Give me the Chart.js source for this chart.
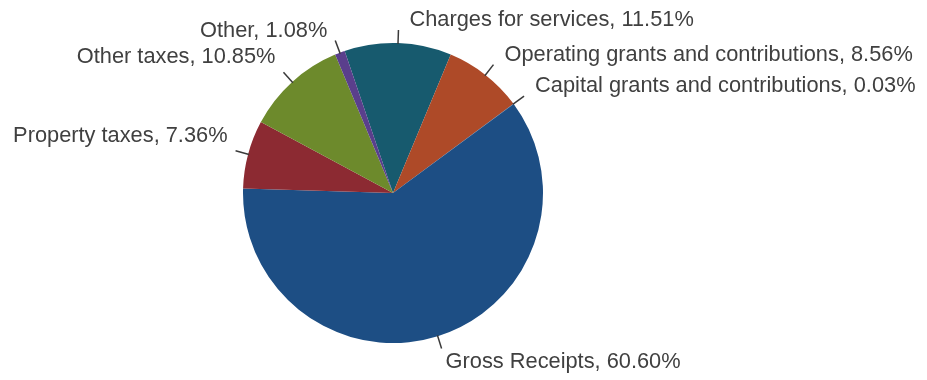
<!DOCTYPE html>
<html>
<head>
<meta charset="utf-8">
<script src="https://cdn.jsdelivr.net/npm/chart.js@4"></script>
<style>
  html, body { margin: 0; padding: 0; background: #ffffff; }
  #wrap { width: 927px; height: 380px; position: relative; }
</style>
</head>
<body>
<div id="wrap"><canvas id="revenue_pie"></canvas></div>
<script>
// revenue sources, share of total (%)
const categories = [
  'Charges for services',
  'Operating grants and contributions',
  'Capital grants and contributions',
  'Gross Receipts',
  'Property taxes',
  'Other taxes',
  'Other'
];
const shares = [11.51, 8.56, 0.03, 60.60, 7.36, 10.85, 1.08];
const sliceColors = ['#175a6e', '#ae4a28', '#2a5a90', '#1d4e84', '#8c2a32', '#6d8a2c', '#5a3f8c'];

// draws the short leader lines and "Name, xx.xx%" labels outside the pie
const outsideLabels = {
  id: 'outsideLabels',
  afterDatasetsDraw(chart) {
    const ctx = chart.ctx;
    const arcs = chart.getDatasetMeta(0).data;
    ctx.save();
    ctx.font = '21.8px "Liberation Sans", Arial, sans-serif';
    ctx.fillStyle = '#404040';
    ctx.strokeStyle = '#3a3a3a';
    ctx.lineWidth = 1.5;
    arcs.forEach((arc, i) => {
      const mid = (arc.startAngle + arc.endAngle) / 2;
      const cos = Math.cos(mid), sin = Math.sin(mid);
      const r = arc.outerRadius;
      const x1 = arc.x + cos * (r - 1), y1 = arc.y + sin * (r - 1);
      const x2 = arc.x + cos * (r + 13), y2 = arc.y + sin * (r + 13);
      ctx.beginPath();
      ctx.moveTo(x1, y1);
      ctx.lineTo(x2, y2);
      ctx.stroke();

      const text = categories[i] + ', ' + shares[i].toFixed(2) + '%';
      const right = cos >= 0;
      const upper = sin < 0;
      ctx.textAlign = right ? 'left' : 'right';
      ctx.textBaseline = 'alphabetic';
      let tx, ty;
      if (upper) {
        tx = right ? x2 + 11 : x2 - 8;
        // labels close to the top sit lower against their line
        ty = (right || sin < -0.9) ? y2 - 4 : y2 - 9;
      } else {
        tx = right ? x2 + 4 : x2 - 8;
        ty = y2 + 19;
      }
      ctx.fillText(text, tx, ty);
    });
    ctx.restore();
  }
};

const config = {
  type: 'pie',
  data: {
    labels: categories,
    datasets: [{
      data: shares,
      backgroundColor: sliceColors,
      borderWidth: 0
    }]
  },
  options: {
    responsive: true,
    maintainAspectRatio: false,
    animation: false,
    rotation: -18.8,
    layout: { padding: { top: 43, bottom: 37, left: 0, right: 141 } },
    plugins: {
      legend: { display: false },
      tooltip: { enabled: false }
    }
  },
  plugins: [outsideLabels]
};

new Chart(document.getElementById('revenue_pie'), config);
</script>
</body>
</html>
